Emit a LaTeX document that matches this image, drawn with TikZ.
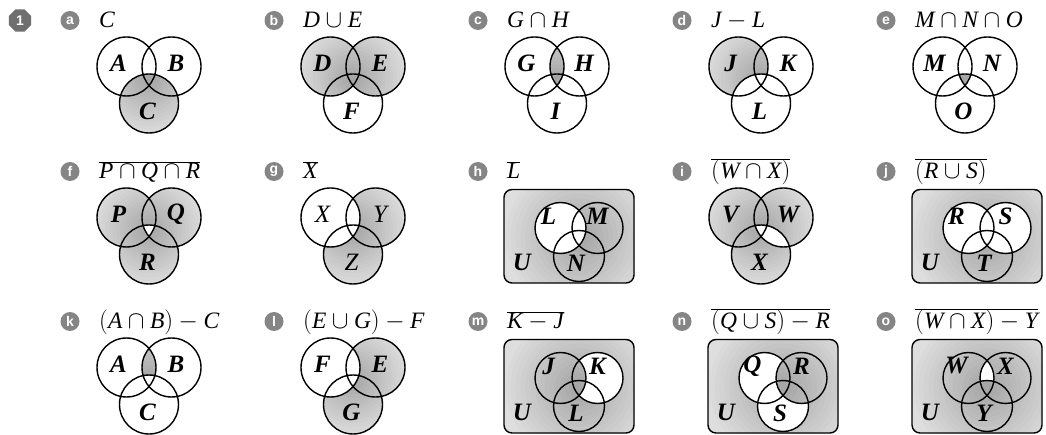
\documentclass[tikz,border=0pt]{standalone}
\usepackage{fontspec}
\setmainfont{Liberation Serif}
\newfontfamily\mkfont{Liberation Sans}
\usetikzlibrary{shapes.geometric}
\definecolor{markgray}{HTML}{858585}
\definecolor{numgray}{HTML}{6F6F6F}
\definecolor{shin}{HTML}{A6A6A6}
\definecolor{shout}{HTML}{DEDEDE}
\newif\ifrectpanel
\newcommand\I[1]{\textit{#1}}
\tikzset{
  vline/.style={line width=1.4pt, draw=black},
  vletter/.style={font=\fontsize{25}{25}\selectfont\bfseries\itshape, inner sep=0pt},
  vlabel/.style={font=\fontsize{23.5}{25}\selectfont\itshape, anchor=base west, inner sep=0pt},
  mkcirc/.style={circle, fill=markgray, text=white, minimum size=19pt, inner sep=0pt,
    font=\mkfont\bfseries\fontsize{14}{14}\selectfont},
  numbadge/.style={regular polygon, regular polygon sides=8, fill=numgray, text=white,
    minimum size=24pt, inner sep=0pt, font=\mkfont\bfseries\fontsize{14}{14}\selectfont},
}
% radial gradient emulated with concentric fills
\newcommand\gradfill{%
  \fill[shout] (Pc) circle (200pt);
  \foreach \k in {0,...,15}{%
    \pgfmathsetmacro\rr{\shr*(1-\k/16)}%
    \pgfmathsetmacro\pc{100*\k/15}%
    \fill[shin!\pc!shout] (Pc) circle (\rr pt);
  }}
\newcommand\vcell[3]{%
  \begin{scope}[even odd rule]
    \ifnum#1=1 \clip (P1) circle (\vr); \else \clip (P1) circle (\vr) (bbA) rectangle (bbB); \fi
    \ifnum#2=1 \clip (P2) circle (\vr); \else \clip (P2) circle (\vr) (bbA) rectangle (bbB); \fi
    \ifnum#3=1 \clip (P3) circle (\vr); \else \clip (P3) circle (\vr) (bbA) rectangle (bbB); \fi
    \ifrectpanel \clip[rounded corners=8pt] (R1) rectangle (R2); \fi
    \gradfill
  \end{scope}}
% #1 id, #2 column, #3 row offset, #4 rect flag, #5-#7 letters, #8 cells, #9 label
\newcommand\panel[9]{%
  \pgfmathsetmacro\X{204*#2}%
  \def\Y{#3}%
  \ifnum#4=1
    \rectpaneltrue
    \def\vr{25.5pt}\def\shr{78}%
    \coordinate (R1) at (\X+96,\Y+38.5);
    \coordinate (R2) at (\X+226,\Y+132);
    \coordinate (P1) at (\X+152.5,\Y+77);
    \coordinate (P2) at (\X+189.5,\Y+77);
    \coordinate (P3) at (\X+171,\Y+105);
    \coordinate (Pc) at (\X+171,\Y+86.3);
  \else
    \rectpanelfalse
    \def\vr{29.5pt}\def\shr{58}%
    \coordinate (P1) at (\X+126.5,\Y+66.5);
    \coordinate (P2) at (\X+171.5,\Y+66.5);
    \coordinate (P3) at (\X+149,\Y+103.5);
    \coordinate (Pc) at (\X+149,\Y+78.8);
  \fi
  \coordinate (bbA) at (\X+40,\Y+10);
  \coordinate (bbB) at (\X+260,\Y+160);
  \foreach \p/\q/\s in {#8}{\vcell{\p}{\q}{\s}}
  \ifrectpanel \draw[vline,rounded corners=8pt] (R1) rectangle (R2); \fi
  \draw[vline] (P1) circle (\vr) (P2) circle (\vr) (P3) circle (\vr);
  \ifrectpanel
    \node[vletter] (#1-l1) at ([shift={(-12,-12)}]P1) {#5};
    \node[vletter] (#1-l2) at ([shift={(0,-12)}]P2) {#6};
    \node[vletter] (#1-l3) at ([shift={(-3,7)}]P3) {#7};
    \node[vletter] (#1-U) at ([shift={(18,73)}]R1) {U};
  \else
    \node[vletter] (#1-l1) at ([shift={(-8,-3)}]P1) {#5};
    \node[vletter] (#1-l2) at ([shift={(4.5,-3)}]P2) {#6};
    \node[vletter] (#1-l3) at ([shift={(-1.5,7.5)}]P3) {#7};
  \fi
  \node[mkcirc] (#1-mk) at (\X+70,\Y+20.5) {#1};
  \node[vlabel] (#1-lab) at (\X+99,\Y+28) {#9};
}
\begin{document}
\begin{tikzpicture}[x=1pt,y=-1pt]
\useasboundingbox[fill=white] (0,0) rectangle (1046,435);
\node[numbadge] (q1) at (20,20.5) {1};
% row 1
\panel{a}{0}{0}{0}{A}{B}{C}{0/0/1,1/0/1,0/1/1,1/1/1}{$\I{C}$}
\panel{b}{1}{0}{0}{D}{E}{F}{1/0/0,0/1/0,1/1/0,1/0/1,0/1/1,1/1/1}{$\I{D}\cup\I{E}$}
\panel{c}{2}{0}{0}{G}{H}{I}{1/1/0,1/1/1}{$\I{G}\cap\I{H}$}
\panel{d}{3}{0}{0}{J}{K}{L}{1/0/0,1/1/0}{$\I{J}-\I{L}$}
\panel{e}{4}{0}{0}{M}{N}{O}{1/1/1}{$\I{M}\cap\I{N}\cap\I{O}$}
% row 2
\panel{f}{0}{151}{0}{P}{Q}{R}{1/0/0,0/1/0,0/0/1,1/1/0,1/0/1,0/1/1}{$\overline{\I{P}\cap\I{Q}\cap\I{R}}$}
\panel{g}{1}{151}{0}{\mdseries X}{\mdseries Y}{\mdseries Z}{0/1/0,0/0/1,0/1/1}{$\overline{\I{X}}$}
\panel{h}{2}{151}{1}{L}{M}{N}{0/0/0,0/1/0,0/0/1,0/1/1}{$\overline{\I{L}}$}
\panel{i}{3}{151}{0}{V}{W}{X}{1/0/0,0/1/0,0/0/1,1/1/0,1/0/1}{$\overline{(\I{W}\cap\I{X})}$}
\panel{j}{4}{151}{1}{R}{S}{T}{0/0/0,0/0/1}{$\overline{(\I{R}\cup\I{S})}$}
% row 3
\panel{k}{0}{301}{0}{A}{B}{C}{1/1/0}{$(\I{A}\cap\I{B})-\I{C}$}
\panel{l}{1}{301}{0}{F}{E}{G}{0/1/0,0/0/1,0/1/1}{$(\I{E}\cup\I{G})-\I{F}$}
\panel{m}{2}{301}{1}{J}{K}{L}{0/0/0,1/0/0,0/0/1,1/1/0,1/0/1,1/1/1}{$\overline{\I{K}-\I{J}}$}
\panel{n}{3}{301}{1}{Q}{R}{S}{0/0/0,0/1/0,1/1/0,0/1/1,1/1/1}{$\overline{(\I{Q}\cup\I{S})-\I{R}}$}
\panel{o}{4}{301}{1}{W}{X}{Y}{0/0/0,1/0/0,0/1/0,0/0/1,1/0/1,0/1/1,1/1/1}{$\overline{(\I{W}\cap\I{X})-\I{Y}}$}
\end{tikzpicture}
\end{document}
